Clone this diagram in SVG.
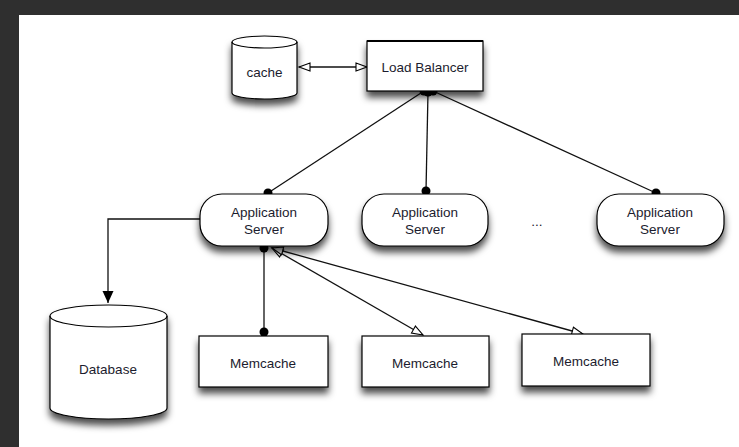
<svg xmlns="http://www.w3.org/2000/svg" width="739" height="447" viewBox="0 0 739 447">
<defs>
<style>
.shape{fill:#fff;stroke:#000;stroke-width:1.2}
.lbl{font-family:"Liberation Sans",Arial,sans-serif;font-size:13.5px;fill:#1c1c2e;text-anchor:middle}
.conn{fill:none;stroke:#111;stroke-width:1.3}
</style>
<filter id="sh" x="-20%" y="-20%" width="140%" height="160%">
<feDropShadow dx="0" dy="6" stdDeviation="3.5" flood-color="#000" flood-opacity="0.7"/>
</filter>
<marker id="dot" markerUnits="userSpaceOnUse" markerWidth="12" markerHeight="12" refX="6" refY="6" viewBox="0 0 12 12" overflow="visible">
<circle cx="6" cy="6" r="4.5" fill="#000"/>
</marker>
<marker id="hollow" markerUnits="userSpaceOnUse" markerWidth="14" markerHeight="10" refX="12" refY="5" viewBox="0 0 14 10" orient="auto-start-reverse" overflow="visible">
<path d="M1,1 L12,5 L1,9 z" fill="#fff" stroke="#000" stroke-width="1.1"/>
</marker>
<marker id="filled" markerUnits="userSpaceOnUse" markerWidth="12" markerHeight="12" refX="12" refY="5.5" viewBox="0 0 12 11" orient="auto" overflow="visible">
<path d="M0,0 L12,5.5 L0,11 z" fill="#000"/>
</marker>
</defs>
<rect x="0" y="0" width="739" height="447" fill="#2f2f2f"/>
<rect x="19" y="15" width="720" height="432" fill="#fff"/>

<g id="connectors">
<line class="conn" x1="299" y1="67" x2="367" y2="67" marker-start="url(#hollow)" marker-end="url(#hollow)"/>
<line class="conn" x1="424" y1="91" x2="268" y2="193" marker-start="url(#dot)" marker-end="url(#dot)"/>
<line class="conn" x1="428" y1="92" x2="426" y2="191" marker-start="url(#dot)" marker-end="url(#dot)"/>
<line class="conn" x1="433" y1="91" x2="656" y2="193" marker-start="url(#dot)" marker-end="url(#dot)"/>
<path class="conn" d="M200,219 H108 V303" marker-end="url(#filled)"/>
<line class="conn" x1="264" y1="248" x2="264" y2="332" marker-start="url(#dot)" marker-end="url(#dot)"/>
<line class="conn" x1="272" y1="248" x2="423" y2="335" marker-start="url(#hollow)" marker-end="url(#hollow)"/>
<line class="conn" x1="272" y1="248" x2="583" y2="334" marker-start="url(#hollow)" marker-end="url(#hollow)"/>
</g>

<g id="cache">
<path class="shape" filter="url(#sh)" d="M232,42 V93 A32.5,6 0 0 0 297,93 V42 A32.5,6 0 0 0 232,42 z"/>
<path d="M232,42 A32.5,6 0 0 0 297,42" fill="none" stroke="#000" stroke-width="1.2"/>
<text class="lbl" x="264.5" y="77">cache</text>
</g>

<g id="load-balancer">
<rect class="shape" filter="url(#sh)" x="367" y="41" width="116" height="50"/>
<line x1="367" y1="41" x2="483" y2="41" stroke="#000" stroke-width="2"/>
<text class="lbl" x="425" y="72">Load Balancer</text>
</g>

<g id="app-server-1">
<rect class="shape" filter="url(#sh)" x="200" y="194" width="128" height="52" rx="22" ry="22"/>
<text class="lbl" x="264" y="217">Application</text>
<text class="lbl" x="264" y="234">Server</text>
</g>

<g id="app-server-2">
<rect class="shape" filter="url(#sh)" x="362" y="194" width="126" height="52" rx="22" ry="22"/>
<text class="lbl" x="425" y="217">Application</text>
<text class="lbl" x="425" y="234">Server</text>
</g>

<g id="ellipsis">
<text class="lbl" x="537" y="226">...</text>
</g>

<g id="app-server-3">
<rect class="shape" filter="url(#sh)" x="597" y="194" width="127" height="52" rx="22" ry="22"/>
<text class="lbl" x="660" y="217">Application</text>
<text class="lbl" x="660" y="234">Server</text>
</g>

<g id="database">
<path class="shape" filter="url(#sh)" d="M50,316 V408 A58.5,11 0 0 0 167,408 V316 A58.5,11 0 0 0 50,316 z"/>
<path d="M50,316 A58.5,11 0 0 0 167,316" fill="none" stroke="#000" stroke-width="1.2"/>
<text class="lbl" x="108" y="374">Database</text>
</g>

<g id="memcache-1">
<rect class="shape" filter="url(#sh)" x="199" y="336" width="129" height="51"/>
<text class="lbl" x="263" y="368">Memcache</text>
</g>

<g id="memcache-2">
<rect class="shape" filter="url(#sh)" x="362" y="336" width="127" height="51"/>
<text class="lbl" x="425" y="368">Memcache</text>
</g>

<g id="memcache-3">
<rect class="shape" filter="url(#sh)" x="522" y="334" width="128" height="52"/>
<text class="lbl" x="586" y="366">Memcache</text>
</g>
</svg>
